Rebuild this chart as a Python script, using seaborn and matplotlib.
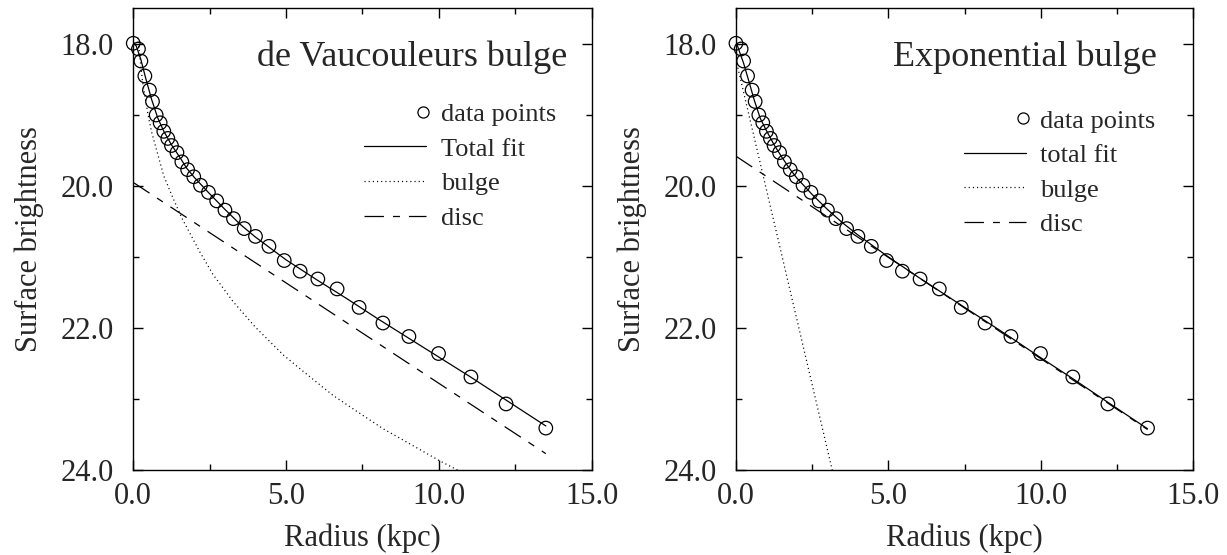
import numpy as np
import matplotlib
matplotlib.use("Agg")
import matplotlib.pyplot as plt
from matplotlib.lines import Line2D
from matplotlib.legend_handler import HandlerLine2D
from matplotlib.ticker import FixedLocator, FormatStrFormatter
import seaborn as sns

# ---------------- data ----------------
radius = [0.0, 0.17, 0.25, 0.38, 0.53, 0.63, 0.75, 0.88, 1.0, 1.13, 1.25, 1.43,
          1.59, 1.78, 1.98, 2.2, 2.46, 2.73, 3.0, 3.28, 3.63, 4.0, 4.44, 4.94,
          5.46, 6.04, 6.67, 7.39, 8.17, 9.02, 9.99, 11.05, 12.2, 13.5]
mu_data = [17.99, 18.07, 18.24, 18.45, 18.65, 18.81, 19.0, 19.11, 19.23, 19.33,
           19.43, 19.53, 19.66, 19.77, 19.87, 19.99, 20.09, 20.21, 20.34, 20.46,
           20.6, 20.71, 20.85, 21.05, 21.2, 21.31, 21.45, 21.71, 21.93, 22.12,
           22.36, 22.69, 23.07, 23.41]

fit_r = [0.0, 0.1, 0.25, 0.4, 0.6, 0.8, 1.0, 1.25, 1.5, 1.75, 2.0, 2.5, 3.0,
         3.5, 4.0, 5.0, 6.0, 7.0, 8.0, 9.0, 10.0, 11.0, 12.0, 13.5]
fit_dv = [17.97, 18.03, 18.22, 18.47, 18.78, 19.04, 19.23, 19.42, 19.58, 19.75,
          19.88, 20.11, 20.33, 20.54, 20.72, 21.04, 21.32, 21.59, 21.87, 22.14,
          22.41, 22.68, 22.96, 23.38]
fit_exp = [17.96, 18.09, 18.27, 18.49, 18.79, 19.05, 19.22, 19.42, 19.59, 19.75,
           19.89, 20.12, 20.33, 20.52, 20.69, 21.0, 21.29, 21.57, 21.85, 22.13,
           22.42, 22.70, 22.99, 23.42]

bulge_dv_r = [0.15, 0.3, 0.49, 0.6, 0.82, 1.0, 1.31, 1.6, 2.18, 2.6, 3.27,
              4.0, 4.91, 5.7, 6.54, 7.3, 8.18, 9.0, 9.98, 11.5]
bulge_dv_mu = [17.91, 18.52, 19.01, 19.24, 19.58, 19.86, 20.18, 20.46,
               20.93, 21.24, 21.63, 21.99, 22.38, 22.66, 22.95, 23.17, 23.42,
               23.62, 23.86, 24.2]
disc_dv_r = [0.0, 13.5]
disc_dv_mu = [19.95, 23.77]

bulge_exp_r = [0.0, 3.5]
bulge_exp_mu = [18.22, 24.63]
disc_exp_r = [0.0, 13.5]
disc_exp_mu = [19.58, 23.43]

panel_titles = ["de Vaucouleurs bulge", "Exponential bulge"]
legend_labels = [["data points", "Total fit", "bulge", "disc"],
                 ["data points", "total fit", "bulge", "disc"]]
x_ticks = [0.0, 5.0, 10.0, 15.0]
x_minor = [2.5, 7.5, 12.5]
y_ticks = [18.0, 20.0, 22.0, 24.0]
y_minor = [19.0, 21.0, 23.0]

# ---------------- style ----------------
sns.set_style("ticks")
plt.rcParams["font.family"] = ["Liberation Serif", "DejaVu Serif"]
plt.rcParams["lines.scale_dashes"] = False
plt.rcParams["axes.linewidth"] = 1.0

DOT = (0, (0.8, 2.2))
DASH = (0, (14, 6.5, 5, 6.5))

fig = plt.figure(figsize=(12.27, 5.55), dpi=100)
axes = [fig.add_axes([0.1086, 0.1532, 0.3736, 0.8315]),
        fig.add_axes([0.5998, 0.1532, 0.3727, 0.8315])]


class RightMarkerHandler(HandlerLine2D):
    def get_xdata(self, legend, xdescent, ydescent, width, height, fontsize):
        x = np.array([-xdescent + width - 0.1 * fontsize])
        return x, x


panels = [
    (fit_dv, bulge_dv_r, bulge_dv_mu, disc_dv_r, disc_dv_mu),
    (fit_exp, bulge_exp_r, bulge_exp_mu, disc_exp_r, disc_exp_mu),
]
title_x = [0.946, 0.92]
leg_x = [0.962, 0.958]
leg_y = [0.836, 0.822]

for i, (ax, (fit, br, bm, dr, dm)) in enumerate(zip(axes, panels)):
    sns.lineplot(x=fit_r, y=fit, ax=ax, color="black", lw=0.9, estimator=None, sort=False)
    sns.lineplot(x=br, y=bm, ax=ax, color="black", lw=0.9, linestyle=DOT, estimator=None, sort=False)
    sns.lineplot(x=dr, y=dm, ax=ax, color="black", lw=0.9, linestyle=DASH, estimator=None, sort=False)
    sns.scatterplot(x=radius, y=mu_data, ax=ax, marker="o", s=95, color="black")
    pts = ax.collections[-1]
    pts.set_facecolor("none")
    pts.set_edgecolor("black")
    pts.set_linewidth(0.9)
    pts.set_clip_on(False)

    ax.set_xlim(0, 15)
    ax.set_ylim(24.0, 17.5)
    ax.xaxis.set_major_locator(FixedLocator(x_ticks))
    ax.xaxis.set_minor_locator(FixedLocator(x_minor))
    ax.yaxis.set_major_locator(FixedLocator(y_ticks))
    ax.yaxis.set_minor_locator(FixedLocator(y_minor))
    ax.xaxis.set_major_formatter(FormatStrFormatter("%.1f"))
    ax.yaxis.set_major_formatter(FormatStrFormatter("%.1f"))
    ax.tick_params(which="both", direction="in", top=True, right=True, width=1.0, color="black")
    ax.tick_params(which="major", length=7.2)
    ax.tick_params(which="minor", length=4.0)
    ax.tick_params(axis="y", which="major", pad=14, labelsize=22)
    ax.tick_params(axis="x", which="major", pad=9, labelsize=22)
    for s in ax.spines.values():
        s.set_visible(True)
        s.set_color("black")
    ax.set_xlabel("Radius (kpc)", fontsize=22, labelpad=9)
    ax.set_ylabel("Surface brightness", fontsize=22, labelpad=12)

    ax.text(title_x[i], 0.93, panel_titles[i], transform=ax.transAxes,
            ha="right", va="top", fontsize=26)

    handles = [
        Line2D([], [], ls="none", marker="o", mfc="none", mec="black", ms=8, mew=0.9),
        Line2D([], [], color="black", lw=0.9),
        Line2D([], [], color="black", lw=0.9, ls=DOT),
        Line2D([], [], color="black", lw=0.9, ls=DASH),
    ]
    ax.legend(handles, legend_labels[i], loc="upper right",
              bbox_to_anchor=(leg_x[i], leg_y[i]),
              frameon=False, fontsize=19, handlelength=2.35,
              handletextpad=0.55, labelspacing=0.42, borderaxespad=0.3,
              handler_map={handles[0]: RightMarkerHandler(numpoints=2)})

fig.savefig("out.png", dpi=100)
